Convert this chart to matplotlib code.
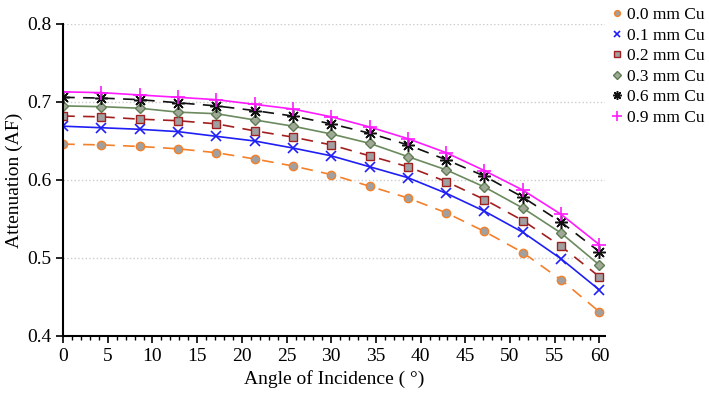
import matplotlib
matplotlib.use("Agg")
import matplotlib.pyplot as plt
from matplotlib.ticker import MultipleLocator

plt.rcParams['font.family'] = ['Liberation Serif', 'DejaVu Serif']
plt.rcParams['font.size'] = 14

angles = [0, 4.29, 8.57, 12.86, 17.14, 21.43, 25.71, 30, 34.29, 38.57, 42.86, 47.14, 51.43, 55.71, 60]

cu_00 = [0.646, 0.645, 0.643, 0.640, 0.635, 0.627, 0.618, 0.607, 0.592, 0.577, 0.558, 0.534, 0.507, 0.472, 0.431]
cu_01 = [0.669, 0.667, 0.665, 0.662, 0.656, 0.650, 0.641, 0.631, 0.617, 0.603, 0.583, 0.560, 0.533, 0.499, 0.459]
cu_02 = [0.682, 0.681, 0.678, 0.676, 0.672, 0.663, 0.655, 0.645, 0.631, 0.617, 0.598, 0.575, 0.548, 0.515, 0.476]
cu_03 = [0.695, 0.694, 0.692, 0.687, 0.685, 0.677, 0.669, 0.659, 0.647, 0.630, 0.613, 0.591, 0.564, 0.532, 0.491]
cu_06 = [0.706, 0.705, 0.703, 0.699, 0.695, 0.689, 0.682, 0.672, 0.660, 0.645, 0.626, 0.605, 0.578, 0.546, 0.508]
cu_09 = [0.713, 0.712, 0.709, 0.706, 0.703, 0.697, 0.691, 0.681, 0.668, 0.653, 0.635, 0.612, 0.587, 0.556, 0.517]

labels = ['0.0 mm Cu', '0.1 mm Cu', '0.2 mm Cu', '0.3 mm Cu', '0.6 mm Cu', '0.9 mm Cu']

fig = plt.figure(figsize=(7.09, 4.0), dpi=100)
ax = fig.add_axes([0.089, 0.16, 0.764, 0.78])

gray = '#a0a0a0'
series = [
    (cu_00, '#f4802a', (0, (7, 5)), dict(marker='o', mfc=gray, mec='#f4802a', ms=6)),
    (cu_01, '#1f1ff5', '-', dict(marker='x', mfc='none', mec='#1f1ff5', ms=7, mew=1.2)),
    (cu_02, '#a21f1f', (0, (7, 5)), dict(marker='s', mfc=gray, mec='#a21f1f', ms=5.5)),
    (cu_03, '#6b8a5e', '-', dict(marker='D', mfc='#a0a898', mec='#5f7d52', ms=5.5)),
    (cu_06, '#111111', (0, (7, 5)), dict(marker=(8, 2, 0), mfc='none', mec='#111111', ms=9, mew=1.1)),
    (cu_09, '#ff1aff', '-', dict(marker='+', mfc='none', mec='#ff1aff', ms=10, mew=1.2)),
]

handles = []
for vals, col, ls, mk in series:
    ax.plot(angles, vals, color=col, linestyle=ls, linewidth=1.2)
    h, = ax.plot(angles, vals, linestyle='none', **mk)
    handles.append(h)

ax.set_xlim(0, 60.6)
ax.set_ylim(0.4, 0.8)
ax.xaxis.set_major_locator(MultipleLocator(5))
ax.xaxis.set_minor_locator(MultipleLocator(1))
ax.yaxis.set_major_locator(MultipleLocator(0.1))
ax.tick_params(axis='both', which='major', direction='out', length=5, width=1.2)
ax.tick_params(axis='x', which='minor', direction='out', length=3, width=1)
ax.yaxis.grid(True, linestyle=':', color='#cccccc', linewidth=1)
ax.set_axisbelow(True)
for s in ['top', 'right']:
    ax.spines[s].set_visible(False)
for s in ['left', 'bottom']:
    ax.spines[s].set_linewidth(1.5)

ax.set_xlabel('Angle of Incidence ( °)')
ax.set_ylabel('Attenuation (AF)', labelpad=3)

fig.legend(handles, labels, loc='upper left', bbox_to_anchor=(0.863, 0.982),
           frameon=False, fontsize=12.5, handlelength=0.6, handletextpad=0.3,
           labelspacing=0.25, markerscale=0.7, borderpad=0, borderaxespad=0)

fig.savefig('out.png', dpi=100)
